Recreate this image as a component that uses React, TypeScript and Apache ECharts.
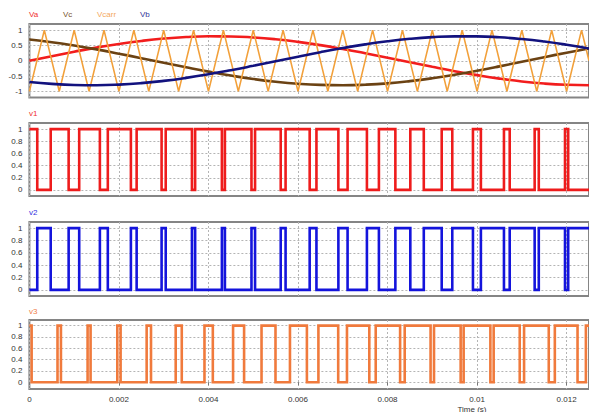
import React, { useEffect, useRef } from "react";
import * as echarts from "echarts";

// ---- axis / tick data ----
const T_MAX = 0.0125;
const xTickValues = [0, 0.002, 0.004, 0.006, 0.008, 0.01, 0.012];
const yTicksRef = [-1, -0.5, 0, 0.5, 1];
const yTicksPulse = [0, 0.2, 0.4, 0.6, 0.8, 1];

const sineTimes = [0, 0.0005, 0.001, 0.0015, 0.002, 0.0025, 0.003, 0.0035, 0.004, 0.0045, 0.005, 0.0055, 0.006, 0.0065, 0.007, 0.0075, 0.008, 0.0085, 0.009, 0.0095, 0.01, 0.0105, 0.011, 0.0115, 0.012, 0.0125];
const vaValues = [0, 0.15, 0.294, 0.429, 0.548, 0.647, 0.724, 0.775, 0.798, 0.794, 0.761, 0.701, 0.616, 0.51, 0.385, 0.247, 0.1, -0.05, -0.199, -0.341, -0.47, -0.583, -0.675, -0.744, -0.786, -0.8];
const vbValues = [-0.693, -0.756, -0.791, -0.799, -0.779, -0.731, -0.657, -0.56, -0.443, -0.31, -0.166, -0.017, 0.133, 0.279, 0.414, 0.535, 0.637, 0.717, 0.771, 0.797, 0.796, 0.766, 0.709, 0.627, 0.523, 0.4];
const vcValues = [0.693, 0.606, 0.497, 0.371, 0.231, 0.084, -0.067, -0.215, -0.356, -0.484, -0.595, -0.684, -0.75, -0.789, -0.8, -0.782, -0.738, -0.666, -0.572, -0.457, -0.325, -0.183, -0.034, 0.117, 0.263, 0.4];

// ---- carrier triangle vertices ----
const carrierTimes = [0, 0.0003333, 0.0006667, 0.001, 0.0013333, 0.0016667, 0.002, 0.0023333, 0.0026667, 0.003, 0.0033333, 0.0036667, 0.004, 0.0043333, 0.0046667, 0.005, 0.0053333, 0.0056667, 0.006, 0.0063333, 0.0066667, 0.007, 0.0073333, 0.0076667, 0.008, 0.0083333, 0.0086667, 0.009, 0.0093333, 0.0096667, 0.01, 0.0103333, 0.0106667, 0.011, 0.0113333, 0.0116667, 0.012, 0.0123333, 0.0125];
const carrierValues = [-1, 1, -1, 1, -1, 1, -1, 1, -1, 1, -1, 1, -1, 1, -1, 1, -1, 1, -1, 1, -1, 1, -1, 1, -1, 1, -1, 1, -1, 1, -1, 1, -1, 1, -1, 1, -1, 1, 0];

// ---- gate signals: start level and switching instants ----
const v1Start = 1;
const v1Switch = [0.0001755, 0.0004763, 0.0008765, 0.0011125, 0.0015744, 0.0017517, 0.0022671, 0.0023954, 0.0029529, 0.0030451, 0.0036306, 0.0037021, 0.0042998, 0.004367, 0.0049607, 0.0050405, 0.0056139, 0.0057224, 0.0062605, 0.0064118, 0.0069017, 0.0071073, 0.0075392, 0.0078071, 0.0081746, 0.0085088, 0.0088096, 0.0092098, 0.0094458, 0.0099078, 0.010085, 0.0106004, 0.0107288, 0.0112862, 0.0113784, 0.011964, 0.0120354];
const v2Start = 0;
const v2Switch = [0.0001755, 0.0004763, 0.0008765, 0.0011125, 0.0015744, 0.0017517, 0.0022671, 0.0023954, 0.0029529, 0.0030451, 0.0036306, 0.0037021, 0.0042998, 0.004367, 0.0049607, 0.0050405, 0.0056139, 0.0057224, 0.0062605, 0.0064118, 0.0069017, 0.0071073, 0.0075392, 0.0078071, 0.0081746, 0.0085088, 0.0088096, 0.0092098, 0.0094458, 0.0099078, 0.010085, 0.0106004, 0.0107288, 0.0112862, 0.0113784, 0.011964, 0.0120354];
const v3Start = 1;
const v3Switch = [0.00005, 0.0006279, 0.0007044, 0.0012999, 0.0013667, 0.0019635, 0.0020373, 0.0026192, 0.0027164, 0.0032678, 0.0034034, 0.0039107, 0.0040971, 0.0045493, 0.0047958, 0.0051852, 0.0054971, 0.0058201, 0.0061986, 0.0064557, 0.0068978, 0.0070937, 0.0075925, 0.0077358, 0.0082807, 0.0083833, 0.0089612, 0.0090378, 0.0096332, 0.0097, 0.0102969, 0.0103706, 0.0109526, 0.0110498, 0.0116011, 0.0117368, 0.012244, 0.0124304];

const FONT = "'Liberation Sans', Arial, sans-serif";

function pulsePoints(start: number, sw: number[]) {
  const pts: [number, number][] = [[0, start]];
  let lvl = start;
  sw.forEach((t) => {
    lvl = 1 - lvl;
    pts.push([t, lvl]);
  });
  pts.push([T_MAX, lvl]);
  return pts;
}

function pairs(xs: number[], ys: number[]) {
  return xs.map((x, i) => [x, ys[i]]);
}

export default function App() {
  const ref = useRef<HTMLDivElement>(null);
  useEffect(() => {
    if (!ref.current) return;
    const chart = echarts.init(ref.current, undefined, { renderer: "svg" });

    const grids = [
      { top: 24, height: 73.5 },
      { top: 123, height: 73 },
      { top: 222, height: 74 },
      { top: 320, height: 69 },
    ].map((g) => ({
      left: 29.4,
      width: 561,
      top: g.top,
      height: g.height,
      show: true,
      borderColor: "#858585",
      borderWidth: 2,
      backgroundColor: "#ffffff",
    }));

    const gridLine = { show: true, lineStyle: { color: "#b4b4b4", width: 1, type: [2, 2] as any } };

    const xAxes = [0, 1, 2, 3].map((i) => ({
      type: "value",
      gridIndex: i,
      min: 0,
      max: T_MAX,
      axisLine: { show: false },
      axisTick: { show: i === 3, customValues: xTickValues, length: 3, inside: false, lineStyle: { color: "#777" } },
      axisLabel: {
        show: i === 3,
        customValues: xTickValues,
        fontSize: 8,
        fontFamily: FONT,
        color: "#333",
        margin: 6,
        formatter: (v: number) => String(v),
      },
      splitLine: gridLine,
    }));

    const yRanges = [
      { min: -1.2, max: 1.2, ticks: yTicksRef },
      { min: -0.1, max: 1.1, ticks: yTicksPulse },
      { min: -0.1, max: 1.1, ticks: yTicksPulse },
      { min: -0.12, max: 1.1, ticks: yTicksPulse },
    ];
    const yAxes = yRanges.map((r, i) => ({
      type: "value",
      gridIndex: i,
      min: r.min,
      max: r.max,
      axisLine: { show: false },
      axisTick: { show: false, customValues: r.ticks },
      axisLabel: {
        customValues: r.ticks,
        fontSize: 8,
        fontFamily: FONT,
        color: "#333",
        margin: 7,
        formatter: (v: number) => String(v),
      },
      splitLine: gridLine,
    }));

    const lineBase = { type: "line", showSymbol: false, symbol: "none", animation: false, clip: true };

    const option: any = {
      animation: false,
      backgroundColor: "#ffffff",
      grid: grids,
      xAxis: xAxes,
      yAxis: yAxes,
      series: [
        { ...lineBase, name: "Va", xAxisIndex: 0, yAxisIndex: 0, smooth: true, data: pairs(sineTimes, vaValues), lineStyle: { color: "#f21d1d", width: 2.6 } },
        { ...lineBase, name: "Vc", xAxisIndex: 0, yAxisIndex: 0, smooth: true, data: pairs(sineTimes, vcValues), lineStyle: { color: "#6b4213", width: 2.6 } },
        { ...lineBase, name: "Vcarr", xAxisIndex: 0, yAxisIndex: 0, data: pairs(carrierTimes, carrierValues), lineStyle: { color: "#f2a03a", width: 1.6 } },
        { ...lineBase, name: "Vb", xAxisIndex: 0, yAxisIndex: 0, smooth: true, data: pairs(sineTimes, vbValues), lineStyle: { color: "#12127e", width: 2.6 } },
        { ...lineBase, name: "v1", xAxisIndex: 1, yAxisIndex: 1, step: "end", data: pulsePoints(v1Start, v1Switch), lineStyle: { color: "#ee1c1c", width: 2.6, join: "miter" } },
        { ...lineBase, name: "v2", xAxisIndex: 2, yAxisIndex: 2, step: "end", data: pulsePoints(v2Start, v2Switch), lineStyle: { color: "#1414dc", width: 2.6, join: "miter" } },
        { ...lineBase, name: "v3", xAxisIndex: 3, yAxisIndex: 3, step: "end", data: pulsePoints(v3Start, v3Switch), lineStyle: { color: "#f07a3c", width: 2.6, join: "miter" } },
      ],
      graphic: [
        { type: "text", x: 29, y: 14, style: { text: "Va", fill: "#f03030", fontSize: 8, fontFamily: FONT, verticalAlign: "middle" } },
        { type: "text", x: 63, y: 14, style: { text: "Vc", fill: "#7a5530", fontSize: 8, fontFamily: FONT, verticalAlign: "middle" } },
        { type: "text", x: 97, y: 14, style: { text: "Vcarr", fill: "#f4a860", fontSize: 8, fontFamily: FONT, verticalAlign: "middle" } },
        { type: "text", x: 140, y: 14, style: { text: "Vb", fill: "#34349a", fontSize: 8, fontFamily: FONT, verticalAlign: "middle" } },
        { type: "text", x: 29, y: 113, style: { text: "v1", fill: "#f03030", fontSize: 8, fontFamily: FONT, verticalAlign: "middle" } },
        { type: "text", x: 29, y: 212, style: { text: "v2", fill: "#3030e0", fontSize: 8, fontFamily: FONT, verticalAlign: "middle" } },
        { type: "text", x: 29, y: 311, style: { text: "v3", fill: "#f08048", fontSize: 8, fontFamily: FONT, verticalAlign: "middle" } },
        { type: "text", x: 472, y: 409, style: { text: "Time (s)", fill: "#333", fontSize: 8, fontFamily: FONT, align: "center", verticalAlign: "middle" } },
      ],
    };
    chart.setOption(option);
    return () => chart.dispose();
  }, []);

  return (
    <div
      ref={ref}
      style={{ position: "fixed", left: 0, top: 0, width: 589, height: 412, background: "#fff" }}
    />
  );
}
